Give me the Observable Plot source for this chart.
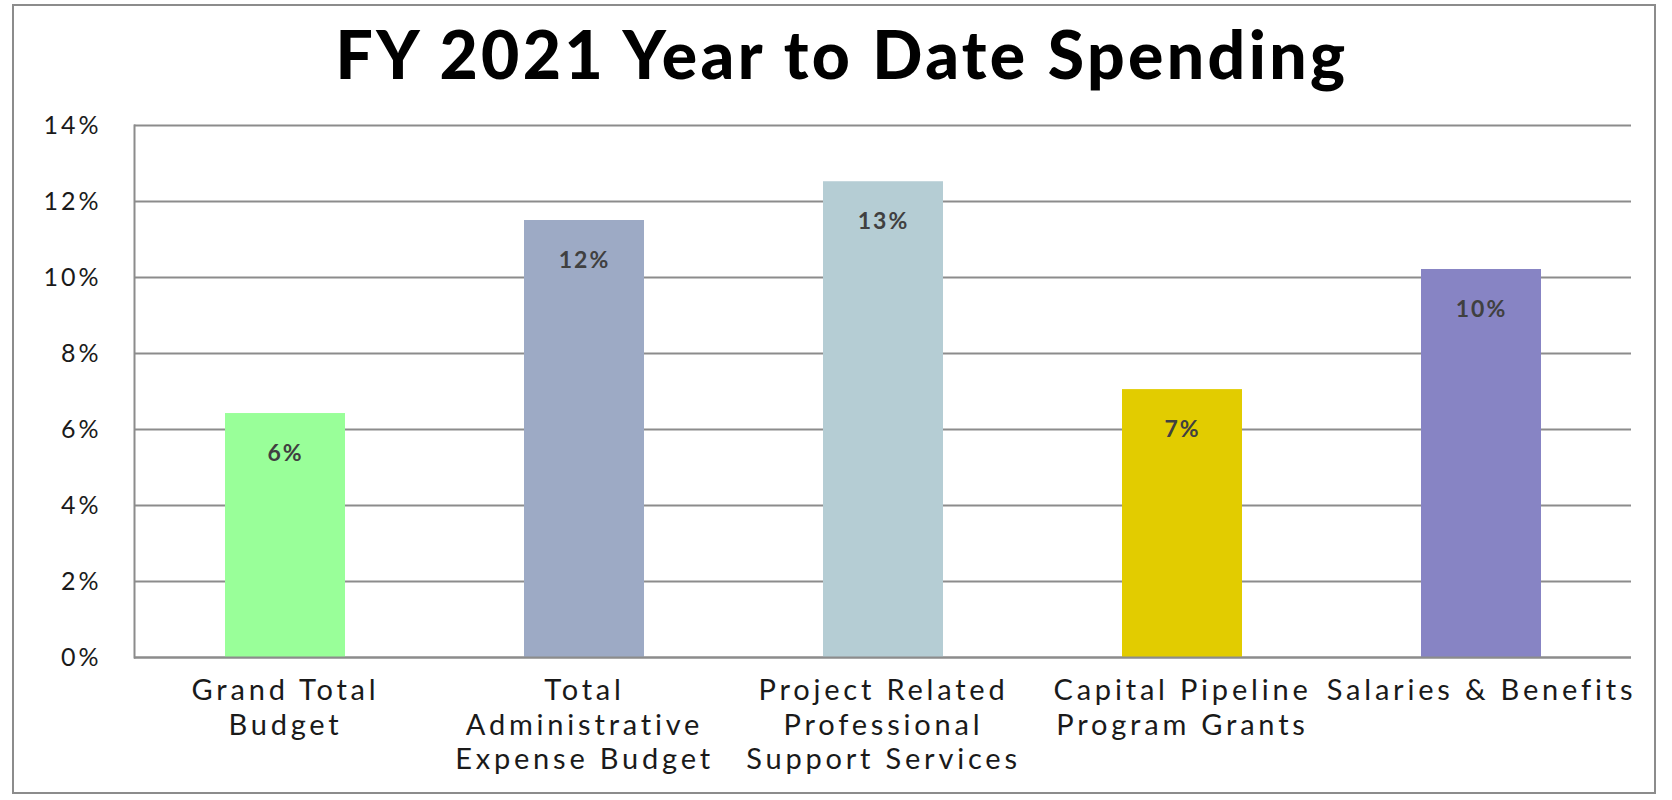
<!DOCTYPE html>
<html>
<head>
<meta charset="utf-8">
<script src="https://cdn.jsdelivr.net/npm/d3@7"></script>
<script src="https://cdn.jsdelivr.net/npm/@observablehq/plot@0.6"></script>
<style>
  html, body { margin: 0; padding: 0; background: #fff; }
  #wrap { position: relative; width: 1672px; height: 800px; overflow: hidden; }
  #border { position: absolute; left: 12px; top: 4px; width: 1644px; height: 790px; border: 2px solid #8c8c8c; box-sizing: border-box; }
  #title { position: absolute; left: 12px; width: 1660px; top: 16px; text-align: center;
           font-family: Lato, sans-serif; font-weight: 900; font-size: 66px; letter-spacing: 3.4px;
           color: #000; line-height: 76px; }
  #chart { position: absolute; left: 0; top: 0; }
  .spend [aria-label="x-axis tick label"] text { letter-spacing: 3.8px; }
  .spend [aria-label="y-axis tick label"] text { letter-spacing: 3px; }
  .spend [aria-label="text"] text { letter-spacing: 2px; }
</style>
</head>
<body>
<div id="wrap">
  <div id="border"></div>
  <div id="chart"></div>
  <div id="title">FY 2021 Year to Date Spending</div>
</div>
<script>
const categories = [
  "Grand Total\nBudget",
  "Total\nAdministrative\nExpense Budget",
  "Project Related\nProfessional\nSupport Services",
  "Capital Pipeline\nProgram Grants",
  "Salaries & Benefits"
];
const values = [0.0642, 0.115, 0.1252, 0.0705, 0.1021];
const colors = ["#99FF99", "#9DAAC5", "#B5CDD4", "#E2CC00", "#8784C4"];
const yTicks = [0, 0.02, 0.04, 0.06, 0.08, 0.10, 0.12, 0.14];

const data = categories.map((c, i) => ({category: c, value: values[i], color: colors[i]}));

const chart = Plot.plot({
  width: 1672,
  height: 800,
  marginLeft: 134,
  marginRight: 41,
  marginTop: 125,
  marginBottom: 143,
  className: "spend",
  style: {fontFamily: "Lato, sans-serif", background: "transparent"},
  x: {domain: categories, paddingInner: 0.6, paddingOuter: 0.3, label: null},
  y: {domain: [0, 0.14], label: null},
  marks: [
    Plot.gridY(yTicks, {stroke: "#8c8c8c", strokeOpacity: 1, strokeWidth: 2}),
    Plot.barY(data, {x: "category", y: "value", fill: "color"}),
    Plot.frame({anchor: "left", stroke: "#8c8c8c", strokeWidth: 2}),
    Plot.ruleY([0], {stroke: "#8c8c8c", strokeWidth: 2}),
    Plot.text(data, {x: "category", y: "value", text: d => Math.round(d.value * 100) + "%",
      dy: 40, fontSize: 23, fontWeight: "bold", fill: "#404040"}),
    Plot.axisY(yTicks, {tickSize: 0, tickPadding: 33, fontSize: 25, fill: "#1a1a1a",
      tickFormat: d => Math.round(d * 100) + "%", label: null}),
    Plot.axisX({tickSize: 0, tickPadding: 18, fontSize: 29, lineHeight: 1.19, fill: "#1a1a1a",
      textAnchor: "middle", label: null})
  ]
});
document.getElementById("chart").appendChild(chart);
</script>
</body>
</html>
